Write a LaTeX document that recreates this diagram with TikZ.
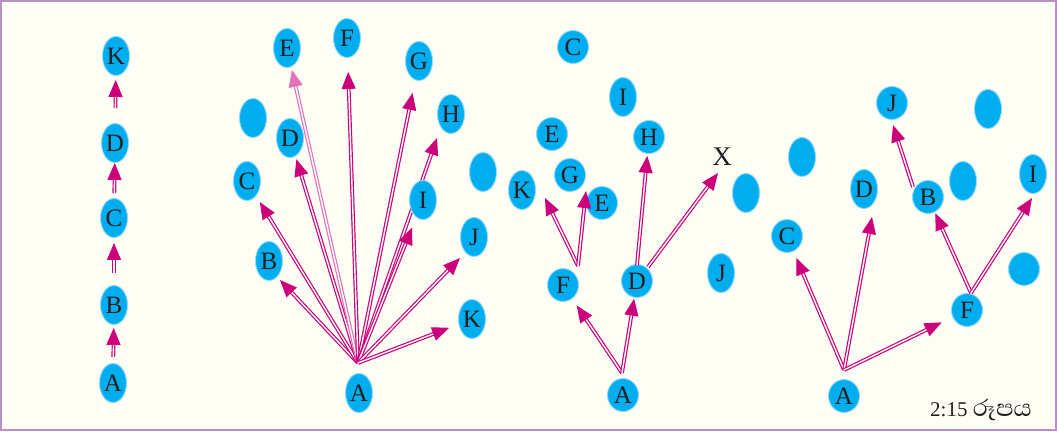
\documentclass[tikz,border=0pt]{standalone}
\usepackage{fontspec}
\setmainfont{Liberation Serif}
\newfontfamily\sinhalafont[Script=Sinhala]{Abhaya Libre}
\usetikzlibrary{shapes.geometric,arrows.meta}
\definecolor{bgc}{HTML}{FEFEF5}
\definecolor{bordc}{HTML}{B78FCB}
\definecolor{nodeblue}{HTML}{00AEEF}
\definecolor{nodeline}{HTML}{8ED8F8}
\definecolor{mag}{HTML}{CC007A}
\definecolor{txt}{HTML}{231F20}
\pgfdeclarelayer{bottom}
\pgfdeclarelayer{under}
\pgfsetlayers{bottom,under,main}
\begin{document}
\begin{tikzpicture}[x=1pt,y=-1pt,
  base/.style={ellipse, fill=nodeblue, draw=nodeline, line width=0.9pt, inner sep=0pt,
    text=txt, font=\fontsize{25}{25}\selectfont},
  tall/.style={base, minimum width=27pt, minimum height=39pt},
  rnd/.style={base, minimum width=31pt, minimum height=33pt},
  arr/.style={draw=mag, double=white, line width=1.2pt, double distance=1.4pt,
    -{Triangle[length=17pt,width=14pt]}},
  arrlight/.style={arr, draw=mag!55},
  lbl/.style={text=txt, inner sep=0pt}]
\begin{pgfonlayer}{bottom}
\fill[bgc] (0,0) rectangle (1057,431);
\draw[bordc, line width=2pt] (1,1) rectangle (1056,430);
\end{pgfonlayer}
\useasboundingbox (0,0) rectangle (1057,431);

% ---------- panel 1 ----------
\node[tall] (K1) at (116,56) {K};
\node[tall] (D1) at (115,143) {D};
\node[tall] (C1) at (114,218) {C};
\node[tall] (B1) at (114,305) {B};
\node[tall] (A1) at (113,383) {A};
\draw[arr, shorten <=6pt, shorten >=3pt] (A1) -- (B1);
\draw[arr, shorten <=12pt, shorten >=5pt] (B1) -- (C1);
\draw[arr, shorten <=5pt, shorten >=0pt] (C1) -- (D1);
\draw[arr, shorten <=15pt, shorten >=4pt] (D1) -- (K1);

% ---------- panel 2 ----------
\node[tall] (E2) at (287,48) {E};
\node[tall] (F2) at (347,38) {F};
\node[tall] (G2) at (419,61) {G};
\node[tall] (u21) at (253,118) {};
\node[tall] (D2) at (290,138) {D};
\node[tall] (H2) at (451,114) {H};
\node[tall] (C2) at (247,181) {C};
\node[tall] (u22) at (483,172) {};
\node[tall] (I2) at (423,200) {I};
\node[tall] (J2) at (474,237) {J};
\node[tall] (B2) at (269,261) {B};
\node[tall] (K2) at (472,319) {K};
\node[tall] (A2) at (359,393) {A};
\coordinate (A2s) at (358,363);
\coordinate (tB2) at (280,280);
\coordinate (tH2) at (437,138);
\coordinate (tJ2) at (460,258);
\begin{pgfonlayer}{under}
\draw[arr] (A2s) -- (tB2);
\draw[arr, shorten >=7pt] (A2s) -- (C2);
\draw[arr, shorten >=3pt] (A2s) -- (D2);
\draw[arrlight, shorten >=3pt] (A2s) -- (E2);
\draw[arr, shorten >=14pt] (A2s) -- (F2);
\draw[arr, shorten >=13pt] (A2s) -- (G2);
\draw[arr] (A2s) -- (tH2);
\draw[arr, shorten >=11pt] (A2s) -- (I2);
\draw[arr] (A2s) -- (tJ2);
\draw[arr, shorten >=10pt] (A2s) -- (K2);
\end{pgfonlayer}

% ---------- panel 3 ----------
\node[rnd] (C3) at (573,47) {C};
\node[tall] (I3) at (623,97) {I};
\node[rnd] (E3a) at (552,134) {E};
\node[rnd] (H3) at (649,137) {H};
\node[lbl, font=\fontsize{27}{27}\selectfont] (X3) at (722,157) {X};
\node[rnd] (G3) at (570,175) {G};
\node[tall] (K3) at (522,190) {K};
\node[rnd] (E3b) at (602,203) {E};
\node[tall] (u31) at (746,193) {};
\node[rnd] (F3) at (563,285) {F};
\node[rnd] (D3) at (637,281) {D};
\node[tall] (J3) at (721,273) {J};
\node[rnd] (A3) at (623,395) {A};
\coordinate (A3s) at (622,373);
\coordinate (F3s) at (578,266);
\coordinate (D3s) at (637,265);
\coordinate (D3t) at (648,267);
\coordinate (tK3) at (545,198);
\coordinate (tG3) at (586,191);
\coordinate (tX3) at (718,173);
\draw[arr, shorten >=8pt] (A3s) -- (F3);
\draw[arr, shorten >=1pt] (A3s) -- (D3);
\draw[arr] (F3s) -- (tK3);
\draw[arr] (F3s) -- (tG3);
\draw[arr, shorten >=2pt] (D3s) -- (H3);
\draw[arr] (D3t) -- (tX3);

% ---------- panel 4 ----------
\node[rnd] (J4) at (892,103) {J};
\node[tall] (u41) at (988,109) {};
\node[tall] (u42) at (802,157) {};
\node[tall] (D4) at (864,189) {D};
\node[rnd] (B4) at (928,197) {B};
\node[tall] (u43) at (963,181) {};
\node[tall] (I4) at (1033,174) {I};
\node[rnd] (C4) at (787,236) {C};
\node[rnd] (u44) at (1024,269) {};
\node[rnd] (F4) at (967,310) {F};
\node[rnd] (A4) at (844,396) {A};
\coordinate (A4s) at (844,370);
\coordinate (F4s) at (971,293);
\coordinate (B4s) at (913,187);
\coordinate (tD4) at (872,217);
\coordinate (tI4) at (1032,198);
\coordinate (tJ4) at (893,125);
\draw[arr, shorten >=7pt] (A4s) -- (C4);
\draw[arr] (A4s) -- (tD4);
\draw[arr, shorten >=12pt] (A4s) -- (F4);
\draw[arr, shorten >=1pt] (F4s) -- (B4);
\draw[arr] (F4s) -- (tI4);
\draw[arr] (B4s) -- (tJ4);

% ---------- caption ----------
\node[lbl, anchor=base west, font=\fontsize{21}{21}\selectfont] (cap) at (930,416) {2:15 {\sinhalafont\fontsize{30}{30}\selectfont රූපය}};
\end{tikzpicture}
\end{document}
